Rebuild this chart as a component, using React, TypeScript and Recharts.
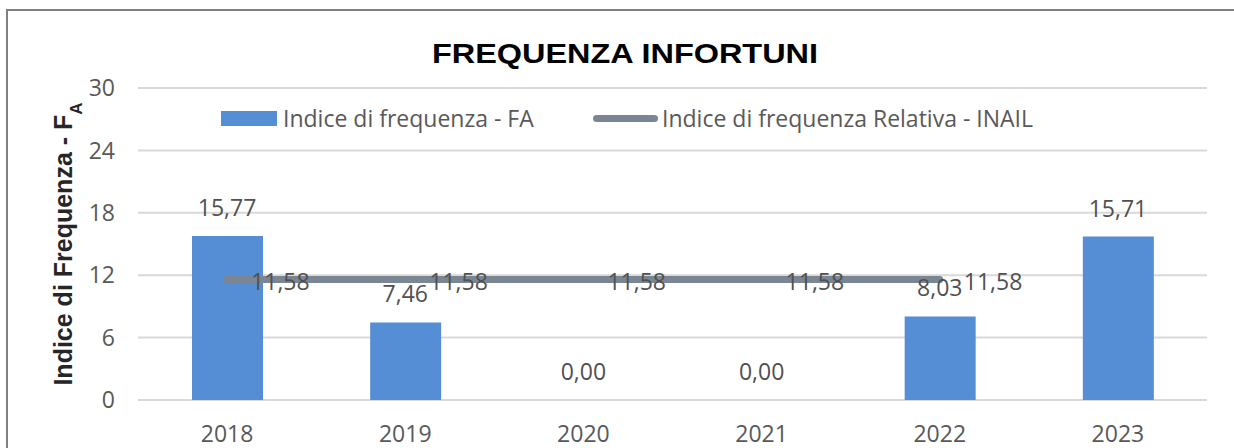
import React from 'react';
import {
  ComposedChart,
  Bar,
  Line,
  XAxis,
  YAxis,
  CartesianGrid,
  Legend,
  LabelList,
} from 'recharts';

const years = ['2018', '2019', '2020', '2021', '2022', '2023'];
const indiceFA = [15.77, 7.46, 0.0, 0.0, 8.03, 15.71];
const indiceINAIL: (number | null)[] = [11.58, 11.58, 11.58, 11.58, 11.58, null];
const yTicks = [0, 6, 12, 18, 24, 30];

const seriesNames = {
  fa: 'Indice di frequenza - FA',
  inail: 'Indice di frequenza Relativa - INAIL',
};
const titleText = 'FREQUENZA INFORTUNI';

const data = years.map((y, i) => ({ year: y, fa: indiceFA[i], inail: indiceINAIL[i] }));

const FONT = '"Open Sans", "Noto Sans", sans-serif';
const TEXT_GRAY = '#595959';
const LABEL_GRAY = '#505050';
const BAR_BLUE = '#558ED5';
const LINE_GRAY = '#7A8694';

const fmt = (v: number | null | undefined) =>
  v === null || v === undefined ? '' : Number(v).toFixed(2).replace('.', ',');

const BarTopLabel = (props: any) => {
  const { x, y, value } = props;
  if (value === null || value === undefined) return null;
  return (
    <text
      x={Number(x)}
      y={Number(y) - 20}
      textAnchor="middle"
      fontFamily={FONT}
      fontSize={23}
      fill={LABEL_GRAY}
    >
      {fmt(value)}
    </text>
  );
};

const LineLabel = (props: any) => {
  const { x, y, value } = props;
  if (value === null || value === undefined) return null;
  return (
    <text
      x={Number(x) + 24}
      y={Number(y) + 10}
      textAnchor="start"
      fontFamily={FONT}
      fontSize={23}
      fill={LABEL_GRAY}
    >
      {fmt(value)}
    </text>
  );
};

const YTitle = (props: any) => {
  const vb = props.viewBox || { x: 0, y: 88, width: 138, height: 312 };
  const cx = vb.x + 72;
  const cy = vb.y + vb.height / 2;
  return (
    <text
      x={cx}
      y={cy}
      transform={`rotate(-90, ${cx}, ${cy})`}
      textAnchor="middle"
      fontFamily='"Liberation Sans", Arial, sans-serif'
      fontWeight="bold"
      fontSize={25}
      fill="#262626"
    >
      Indice di Frequenza - F
      <tspan baselineShift="sub" fontSize={17}>
        A
      </tspan>
    </text>
  );
};

const LegendContent = (props: any) => {
  const payload = (props.payload || []).filter((e: any) => e.type !== 'none');
  return (
    <div style={{ position: 'relative', width: 900, height: 28 }}>
      {payload.map((entry: any, i: number) => {
        const isLine = entry.type === 'line';
        const left = isLine ? 372 : 0;
        return (
          <div
            key={i}
            style={{
              position: 'absolute',
              left,
              top: 0,
              height: 28,
              display: 'flex',
              alignItems: 'center',
              whiteSpace: 'nowrap',
            }}
          >
            {isLine ? (
              <div
                style={{
                  width: 65,
                  height: 7,
                  borderRadius: 4,
                  background: entry.color,
                  marginRight: 4,
                }}
              />
            ) : (
              <div style={{ width: 56, height: 15, background: entry.color, marginRight: 6 }} />
            )}
            <span
              style={{
                fontFamily: FONT,
                fontSize: 23,
                color: TEXT_GRAY,
                lineHeight: '28px',
              }}
            >
              {entry.value}
            </span>
          </div>
        );
      })}
    </div>
  );
};

export default function App() {
  return (
    <div
      style={{
        position: 'absolute',
        left: 0,
        top: 0,
        width: 1234,
        height: 448,
        overflow: 'hidden',
        background: '#ffffff',
      }}
    >
      <div
        style={{
          position: 'absolute',
          left: 6,
          top: 9,
          width: 1260,
          height: 500,
          borderLeft: '2px solid #808080',
          borderTop: '2px solid #808080',
          boxSizing: 'border-box',
        }}
      />
      <svg
        width={1234}
        height={80}
        style={{ position: 'absolute', left: 0, top: 0 }}
      >
        <text
          x={625}
          y={63}
          textAnchor="middle"
          fontFamily='"Liberation Sans", Arial, sans-serif'
          fontWeight="bold"
          fontSize={28}
          textLength={386}
          lengthAdjust="spacingAndGlyphs"
          fill="#000000"
        >
          {titleText}
        </text>
      </svg>
      <div style={{ position: 'absolute', left: 0, top: 0 }}>
        <ComposedChart
          width={1234}
          height={448}
          data={data}
          margin={{ top: 88, right: 27, bottom: 0, left: 0 }}
        >
          <CartesianGrid horizontal vertical={false} stroke="#D9D9D9" strokeWidth={2} />
          <XAxis
            dataKey="year"
            axisLine={false}
            tickLine={false}
            tickSize={0}
            tickMargin={26}
            height={48}
            interval={0}
            tick={{ fontFamily: FONT, fontSize: 23, fill: TEXT_GRAY }}
          />
          <YAxis
            domain={[0, 30]}
            ticks={yTicks}
            axisLine={false}
            tickLine={false}
            tickSize={0}
            tickMargin={23}
            width={138}
            interval={0}
            tick={{ fontFamily: FONT, fontSize: 23, fill: TEXT_GRAY }}
            label={<YTitle />}
          />
          <Legend
            layout="horizontal"
            verticalAlign="middle"
            align="center"
            content={<LegendContent />}
            wrapperStyle={{ left: 221, top: 104, width: 900, height: 28 }}
          />
          <Bar
            dataKey="fa"
            name={seriesNames.fa}
            fill={BAR_BLUE}
            barSize={71}
            isAnimationActive={false}
            legendType="rect"
          />
          <Line
            dataKey="inail"
            name={seriesNames.inail}
            stroke={LINE_GRAY}
            strokeWidth={7}
            strokeLinecap="round"
            dot={false}
            activeDot={false}
            connectNulls={false}
            isAnimationActive={false}
            legendType="line"
          >
            <LabelList dataKey="inail" content={<LineLabel />} />
          </Line>
          <Line
            dataKey="fa"
            name="fa-labels"
            stroke="none"
            dot={false}
            activeDot={false}
            isAnimationActive={false}
            legendType="none"
          >
            <LabelList dataKey="fa" content={<BarTopLabel />} />
          </Line>
        </ComposedChart>
      </div>
    </div>
  );
}
